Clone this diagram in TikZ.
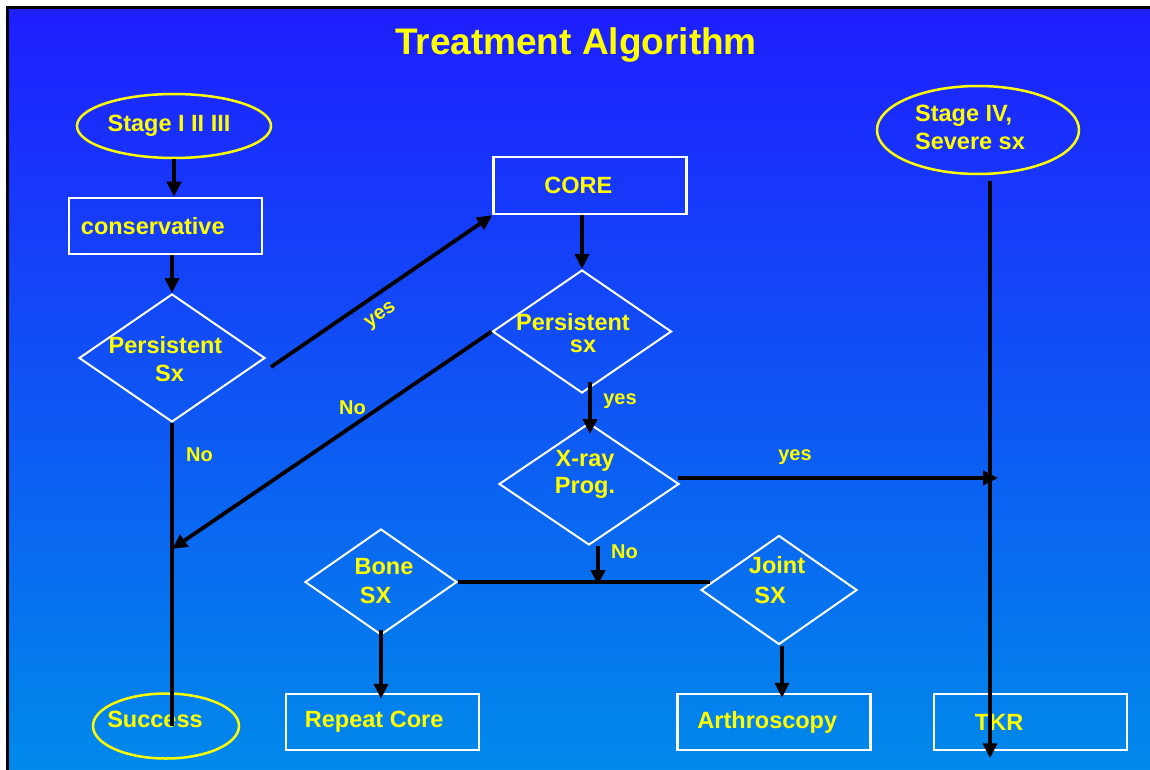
\documentclass[tikz,border=0pt]{standalone}
\usepackage{fontspec}
\setmainfont{Liberation Sans}
\usetikzlibrary{shapes.geometric,arrows.meta,calc}
\definecolor{bgtop}{RGB}{30,30,255}
\definecolor{bgmid}{RGB}{16,100,242}
\definecolor{bgbot}{RGB}{0,138,234}
\definecolor{ylw}{RGB}{255,255,0}
\begin{document}
\begin{tikzpicture}[x=1pt,y=-1pt,
  txt/.style={text=ylw,font=\fontsize{23.5}{28}\selectfont\bfseries,inner sep=0pt,align=center},
  lbl/.style={text=ylw,font=\fontsize{20}{24}\selectfont\bfseries,inner sep=0pt},
  boxnode/.style={draw=white,line width=2.5pt,rectangle,minimum width=193pt,minimum height=56pt,inner sep=0pt},
  oval/.style={draw=ylw,line width=2.5pt,ellipse,inner sep=0pt},
  dmd/.style={draw=white,line width=2pt,diamond,inner sep=0pt},
  conn/.style={line width=3.8pt,black},
  arr/.style={conn,-{Triangle[length=15pt,width=14pt]}},
]
\useasboundingbox (0,0) rectangle (1150,770);
\fill[white] (0,0) rectangle (1150,770);
\shade[top color=bgtop,middle color=bgmid,bottom color=bgbot] (8.5,8.5) rectangle (1150,770);
\draw[line width=3pt] (7.5,770) -- (7.5,7.5) -- (1150,7.5);

% title
\node[text=ylw,font=\fontsize{37}{40}\selectfont\bfseries,inner sep=0pt] (title) at (576,45.5) {Treatment Algorithm};

% ellipses
\node[oval,minimum width=194pt,minimum height=64pt,label={[txt,xshift=-5pt]center:{Stage I II III}}] (s1) at (174,126) {};
\node[oval,minimum width=202pt,minimum height=88pt,label={[txt,align=left,xshift=-8pt,yshift=3pt]center:{Stage IV,\\Severe sx}}] (s4) at (978,130) {};
\node[oval,minimum width=146pt,minimum height=65pt,label={[txt,xshift=-11pt,yshift=6.5pt]center:{Success}}] (succ) at (166,726) {};

% boxes
\node[boxnode,label={[txt,anchor=west,xshift=13pt]west:{conservative}}] (cons) at (165.5,226) {};
\node[boxnode,minimum height=57pt,label={[txt,anchor=west,xshift=52pt]west:{CORE}}] (core) at (590,185.5) {};
\node[boxnode,label={[txt,anchor=west,xshift=20pt]west:{Repeat Core}}] (rc) at (382.5,722) {};
\node[boxnode,label={[txt,anchor=west,xshift=21pt]west:{Arthroscopy}}] (arth) at (774,722) {};
\node[boxnode,label={[txt,anchor=west,xshift=42pt]west:{TKR}}] (tkr) at (1030.5,722) {};

% diamonds
\node[dmd,minimum width=186pt,minimum height=128pt,label={[txt,xshift=-6.5pt,yshift=-1pt]center:{Persistent\\\hspace*{8pt}Sx}}] (d1) at (172,358) {};
\node[dmd,minimum width=179pt,minimum height=123pt,label={[txt,font=\fontsize{23.5}{22}\selectfont\bfseries,xshift=-9pt,yshift=-2pt]center:{Persistent\\\hspace*{20pt}sx}}] (d2) at (582,331.5) {};
\node[dmd,minimum width=180pt,minimum height=122pt,label={[txt,font=\fontsize{23.5}{27}\selectfont\bfseries,xshift=-4pt,yshift=10pt]center:{X-ray\\Prog.}}] (d3) at (589,484) {};
\node[dmd,minimum width=152pt,minimum height=106pt,label={[txt,font=\fontsize{23.5}{29}\selectfont\bfseries,xshift=3pt,yshift=1pt]center:{Bone\\SX\hspace*{17pt}}}] (d4) at (381,582) {};
\node[dmd,minimum width=156pt,minimum height=109pt,label={[txt,font=\fontsize{23.5}{30}\selectfont\bfseries,xshift=-2pt,yshift=9.5pt]center:{Joint\\SX\hspace*{14pt}}}] (d5) at (779,590) {};

% helper coordinates
\path ($(s4.south)+(12,6)$) coordinate (ivtop);
\path (d1.south) ++(0,126) coordinate (nojoin);
\path ($(d3.east)+(-2,-6)$) coordinate (xyes);
\path ($(d3.south)+(9,0)$) coordinate (xno);
\path ($(d4.east -| d5.west)+(10,0)$) coordinate (jleft);

% connectors
\draw[arr] (s1.south) -- (s1.south |- cons.north);
\draw[arr] (cons.south -| d1.north) -- (d1.north);
\draw[arr] ($(d1.east)+(5,9)$) -- (core.south west);
\draw[conn] (d1.south) -- (d1.south |- succ.center);
\draw[arr] (d2.west) -- (nojoin);
\draw[arr] (d2.north |- core.south) -- (d2.north);
\draw[arr] ($(d2.south)+(8,-12)$) -- ($(d3.north)+(1,12)$);
\draw[arr] (xyes) -- ($(xyes -| ivtop)+(8,0)$);
\draw[arr] (xno) -- ($(xno |- d4.east)+(0,3)$);
\draw[conn] (d4.east) -- (jleft);
\draw[arr] ($(d4.south)+(0,-6)$) -- ($(d4.south |- rc.north)+(0,6)$);
\draw[arr] ($(d5.south)+(3,0)$) -- ($(d5.south |- arth.north)+(3,5)$);
\draw[arr] (ivtop) -- ($(ivtop |- tkr.south)+(0,7)$);

% connector labels
\node[lbl,rotate=34] (lyes1) at (381,316) {yes};
\node[lbl] (lno1) at (199.5,455) {No};
\node[lbl] (lno2) at (352.5,407.5) {No};
\node[lbl] (lyes2) at (620,401) {yes};
\node[lbl] (lyes3) at (795,457) {yes};
\node[lbl] (lno3) at (624.5,551.5) {No};
\end{tikzpicture}
\end{document}
